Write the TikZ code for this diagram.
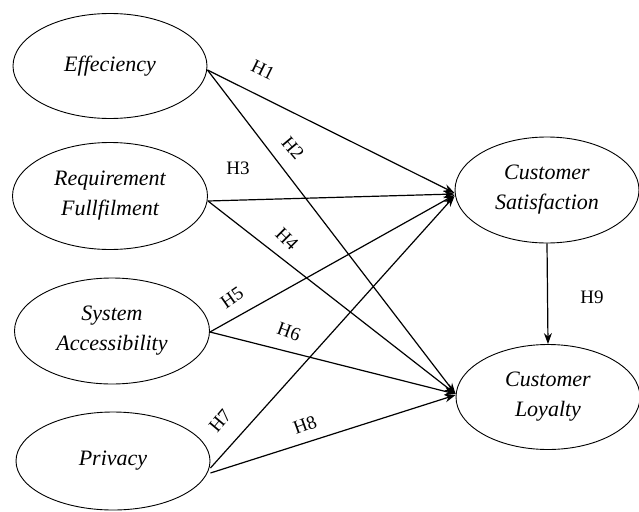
\documentclass[tikz,border=0pt]{standalone}
\usepackage{fontspec}
\setmainfont{Liberation Serif}
\usetikzlibrary{shapes.geometric,arrows.meta}
\begin{document}
\begin{tikzpicture}[x=1pt,y=-1pt,
  var/.style={draw,ellipse,line width=0.9pt,inner sep=0pt,align=center,font=\fontsize{22}{30}\selectfont\itshape},
  link/.style={line width=1.2pt,-{Stealth[length=11pt,width=8pt]}},
  hlab/.style={font=\fontsize{19}{20}\selectfont,inner sep=0pt}]
\useasboundingbox (0,0) rectangle (639,511);
\node[var,minimum width=194pt,minimum height=105pt] (eff) at (110,66) {Effeciency};
\node[var,minimum width=195pt,minimum height=107pt] (req) at (110,196) {Requirement\\Fullfilment};
\node[var,minimum width=195pt,minimum height=106pt] (sys) at (112,331) {System\\Accessibility};
\node[var,minimum width=194pt,minimum height=98pt] (priv) at (113,461) {Privacy};
\node[var,minimum width=184pt,minimum height=106pt] (cs) at (547,190) {Customer\\Satisfaction};
\node[var,minimum width=184pt,minimum height=105pt] (cl) at (548,397) {Customer\\Loyalty};
\draw[link] ([yshift=-4pt]eff.east) -- ([yshift=-3pt]cs.west);
\draw[link] ([yshift=-4pt]eff.east) -- ([yshift=3pt]cl.west);
\draw[link] ([yshift=-5pt]req.east) -- ([yshift=-4pt]cs.west);
\draw[link] ([yshift=-5pt]req.east) -- ([yshift=3pt]cl.west);
\draw[link] ([yshift=-1pt]sys.east) -- ([yshift=-5pt]cs.west);
\draw[link] ([yshift=-1pt]sys.east) -- ([yshift=3pt]cl.west);
\draw[link] ([yshift=-7pt]priv.east) -- ([yshift=-6pt]cs.west);
\draw[link] ([yshift=-12pt]priv.east) -- ([yshift=2pt]cl.west);
\draw[link] (cs.south) -- (cl.north);
\node[hlab,rotate=-26] (h1) at (263,70) {H1};
\node[hlab,rotate=-50] (h2) at (293,148) {H2};
\node[hlab] (h3) at (238,168) {H3};
\node[hlab,rotate=-45] (h4) at (287,239) {H4};
\node[hlab,rotate=35] (h5) at (232,298) {H5};
\node[hlab,rotate=-20] (h6) at (289,332) {H6};
\node[hlab,rotate=50] (h7) at (220,421) {H7};
\node[hlab,rotate=20] (h8) at (305,425) {H8};
\node[hlab] (h9) at (592,297) {H9};
\end{tikzpicture}
\end{document}
